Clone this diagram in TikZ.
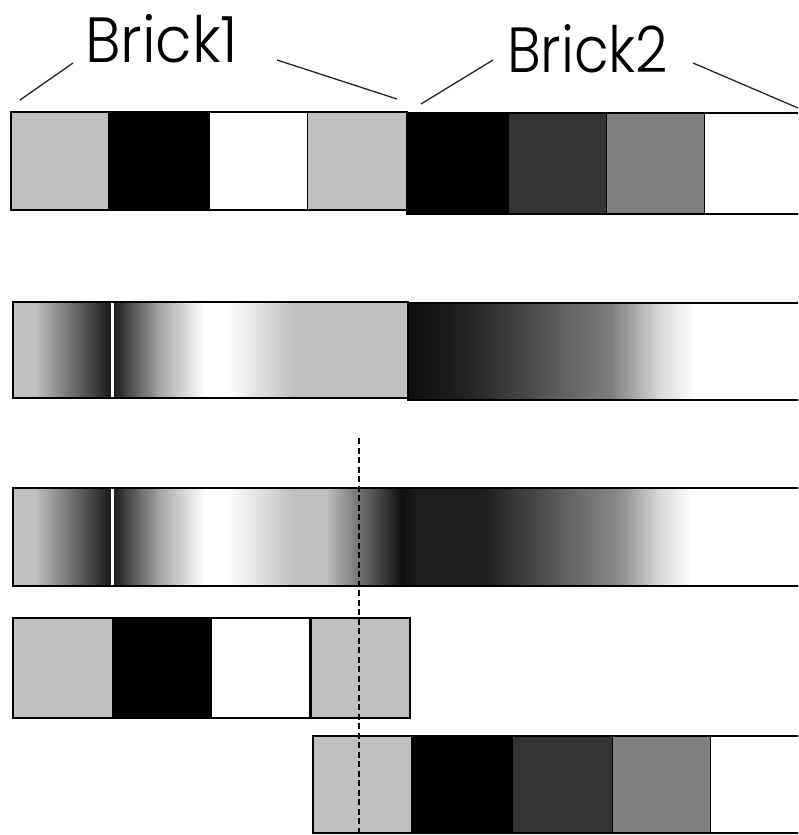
\documentclass[tikz,border=0pt]{standalone}
\usepackage{fontspec}
\setmainfont{Poppins Light}
\usetikzlibrary{calc}
\definecolor{gA}{HTML}{C0C0C0}
\definecolor{gD}{HTML}{333333}
\definecolor{gM}{HTML}{808080}
\newcommand\cellfill[5]{\fill[#5] (#1,#3) rectangle (#2,#4);}
\newcommand\gseg[6]{\shade[left color=#5, right color=#6] (#1,#3) rectangle (#2,#4);}
\begin{document}
\begin{tikzpicture}[x=1pt,y=-1pt,
  outline/.style={draw=black, line width=1.3pt},
  divider/.style={draw=black, line width=1pt},
  leader/.style={draw=black!85, line width=1.3pt},
  cut/.style={draw=black, line width=1.7pt, dash pattern=on 6pt off 3.5pt},
  label/.style={inner sep=0pt, anchor=south west}]
\useasboundingbox (0,0) rectangle (798,835);
\clip (0,0) rectangle (798,835);
\fill[white] (0,0) rectangle (798,835);

% ---------- labels ----------
\node[label] (lab1) at (85,63) {\resizebox{153pt}{48pt}{Brick1}};
\node[label] (lab2) at (507,73) {\resizebox{161pt}{48pt}{Brick2}};
\coordinate (b1l) at (20,100);  \coordinate (b1la) at (73,63);
\coordinate (b1ra) at (277,60); \coordinate (b1r) at (397,99);
\coordinate (b2l) at (421,104); \coordinate (b2la) at (493,60);
\coordinate (b2ra) at (693,63); \coordinate (b2r) at (798,108);
\draw[leader] (b1l) -- (b1la);
\draw[leader] (b1ra) -- (b1r);
\draw[leader] (b2l) -- (b2la);
\draw[leader] (b2ra) -- (b2r);

% ---------- row 1 ----------
\cellfill{11}{108}{112}{210}{gA}
\cellfill{108}{209}{112}{210}{black}
\cellfill{209}{307}{112}{210}{white}
\cellfill{307}{407}{112}{210}{gA}
\draw[divider] (209,112) -- (209,210) (307,112) -- (307,210);
\draw[outline] (11,112) rectangle (407,210);
\cellfill{407}{508}{113}{214}{black}
\cellfill{508}{606}{113}{214}{gD}
\cellfill{606}{704}{113}{214}{gM}
\cellfill{704}{810}{113}{214}{white}
\draw[divider] (508,113) -- (508,214) (606,113) -- (606,214) (704,113) -- (704,214);
\draw[outline] (407,113) rectangle (810,214);

% ---------- row 2 ----------
\cellfill{13}{36}{302}{398}{gA}
\gseg{35}{111}{302}{398}{gA}{black!90}
\cellfill{111}{114}{302}{398}{white}
\gseg{114}{160}{302}{398}{black!88}{black!35}
\gseg{159.5}{205}{302}{398}{black!35}{white}
\cellfill{204.5}{228}{302}{398}{white}
\gseg{228}{292}{302}{398}{white}{gA}
\cellfill{291.5}{408}{302}{398}{gA}
\draw[outline] (13,302) rectangle (408,398);
\gseg{408}{470}{303}{400}{black!94}{black!86}
\gseg{469.5}{612}{303}{400}{black!86}{black!50}
\gseg{611.5}{660}{303}{400}{black!50}{black!15}
\gseg{659.5}{695}{303}{400}{black!15}{white}
\cellfill{694.5}{810}{303}{400}{white}
\draw[outline] (408,303) rectangle (810,400);

% ---------- row 3 ----------
\cellfill{13}{36}{488}{586}{gA}
\gseg{35}{111}{488}{586}{gA}{black!90}
\cellfill{111}{114}{488}{586}{white}
\gseg{114}{160}{488}{586}{black!88}{black!35}
\gseg{159.5}{205}{488}{586}{black!35}{white}
\cellfill{204.5}{228}{488}{586}{white}
\gseg{228}{292}{488}{586}{white}{gA}
\cellfill{291.5}{326}{488}{586}{gA}
\gseg{325.5}{402}{488}{586}{gA}{black!94}
\gseg{401.5}{418}{488}{586}{black!94}{black!88}
\cellfill{417.5}{485}{488}{586}{black!88}
\gseg{484.5}{620}{488}{586}{black!88}{black!45}
\gseg{619.5}{660}{488}{586}{black!45}{black!15}
\gseg{659.5}{692}{488}{586}{black!15}{white}
\cellfill{691.5}{810}{488}{586}{white}
\draw[outline] (13,488) rectangle (810,586);

% ---------- row 4 ----------
\cellfill{13}{112}{618}{718}{gA}
\cellfill{112}{212}{618}{718}{black}
\cellfill{212}{310}{618}{718}{white}
\draw[outline] (13,618) rectangle (310,718);
\cellfill{311.5}{410}{618}{718}{gA}
\draw[outline] (311.5,618) rectangle (410,718);

% ---------- row 5 ----------
\cellfill{313}{411}{736}{833}{gA}
\cellfill{411}{512}{736}{833}{black}
\cellfill{512}{612}{736}{833}{gD}
\cellfill{612}{710}{736}{833}{gM}
\cellfill{710}{810}{736}{833}{white}
\draw[divider] (411,736) -- (411,833) (512,736) -- (512,833) (612,736) -- (612,833) (710,736) -- (710,833);
\draw[outline] (313,736) rectangle (810,833);

% ---------- cut line ----------
\coordinate (cutTop) at (359,438);
\coordinate (cutBot) at (359,835);
\draw[cut] (cutTop) -- (cutBot);
\end{tikzpicture}
\end{document}
